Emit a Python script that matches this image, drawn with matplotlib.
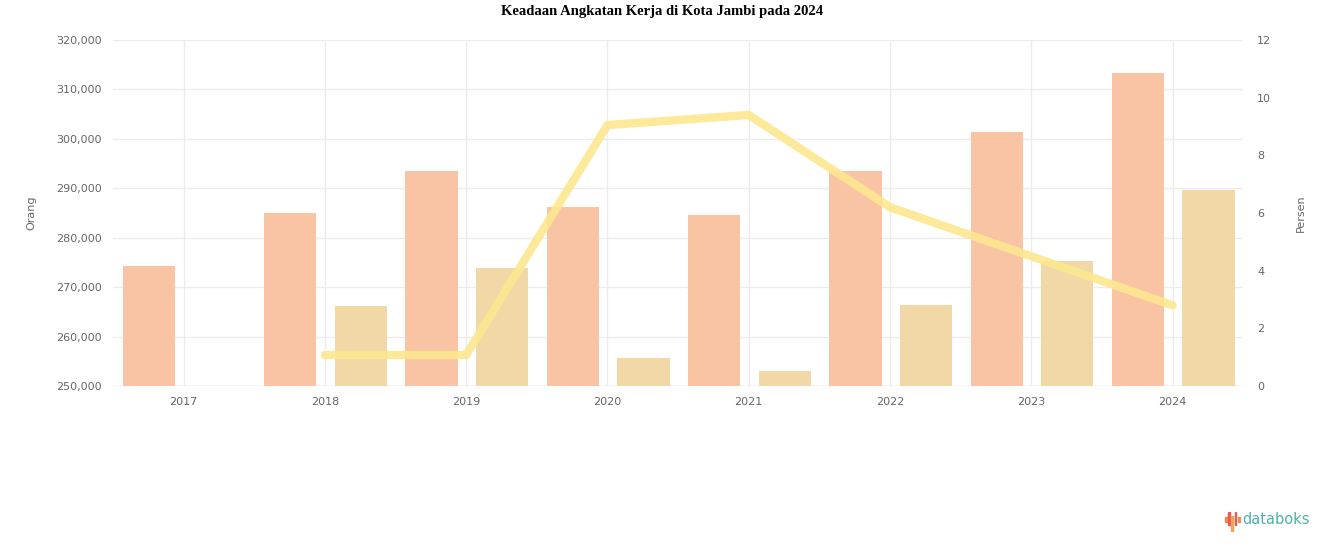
import matplotlib
matplotlib.use("Agg")
import matplotlib.pyplot as plt
from matplotlib.patches import Rectangle
import numpy as np

# data
years = ["2017", "2018", "2019", "2020", "2021", "2022", "2023", "2024"]
angkatan_kerja = [274300, 285000, 293600, 286300, 284600, 293600, 301400, 313400]
bekerja = [np.nan, 266200, 273800, 255600, 253000, 266400, 275300, 289700]
persen = [np.nan, 1.08, 1.08, 9.05, 9.4, 6.2, 4.5, 2.8]

left_ticks = [250000, 260000, 270000, 280000, 290000, 300000, 310000, 320000]
right_ticks = [0, 2, 4, 6, 8, 10, 12]

fig = plt.figure(figsize=(13.24, 5.47), dpi=100)
ax = fig.add_axes([0.0853, 0.294, 0.8537, 0.633])
ax2 = ax.twinx()

x = np.arange(len(years))
w = 0.37
ax.bar(x - 0.245, angkatan_kerja, width=w, color="#f9c4a4", zorder=2)
ax.bar(x + 0.255, bekerja, width=w, color="#f2d8a7", zorder=2)

ax2.plot(x, persen, color="#fce78f", lw=6, alpha=0.9,
         solid_capstyle="round", solid_joinstyle="round", zorder=3)

ax.set_xlim(-0.5, len(years) - 0.5)
ax.set_ylim(left_ticks[0], left_ticks[-1])
ax.set_yticks(left_ticks)
ax.set_yticklabels([f"{v:,}" for v in left_ticks])
ax2.set_ylim(right_ticks[0], right_ticks[-1])
ax2.set_yticks(right_ticks)
ax.set_xticks(x)
ax.set_xticklabels(years)

for a in (ax, ax2):
    for s in a.spines.values():
        s.set_visible(False)
    a.tick_params(length=0, labelsize=8, colors="#666666")
ax.tick_params(axis="x", pad=8)
ax.tick_params(axis="y", pad=8)
ax2.tick_params(axis="y", pad=10)
ax.grid(True, color="#ececec", lw=1, zorder=0)
ax.set_axisbelow(True)
ax.axhline(left_ticks[0], color="#dddddd", lw=1, zorder=1)

ax.set_ylabel("Orang", fontsize=8, color="#666666", labelpad=14)
ax2.set_ylabel("Persen", fontsize=8, color="#666666", labelpad=18)

fig.suptitle("Keadaan Angkatan Kerja di Kota Jambi pada 2024", y=0.99,
             fontsize=10.5, fontweight="bold", family="Liberation Serif")

# databoks logo
logo = fig.add_axes([0.9245, 0.028, 0.0125, 0.036])
logo.set_xlim(0, 5)
logo.set_ylim(0, 4)
logo.axis("off")
heights = [1.0, 2.6, 3.4, 2.6, 1.0]
tops = [3.0, 4.0, 3.2, 4.0, 3.0]
cols = ["#f08a5d", "#ea5b4b", "#f4a259", "#ea5b4b", "#f08a5d"]
for i, (h, t, c) in enumerate(zip(heights, tops, cols)):
    logo.add_patch(Rectangle((i + 0.2, t - h), 0.55, h, color=c))
fig.text(0.9385, 0.05, "databoks", fontsize=10.5, color="#4cb3a7",
         family="DejaVu Sans", va="center")

fig.savefig("out.png", dpi=100)
